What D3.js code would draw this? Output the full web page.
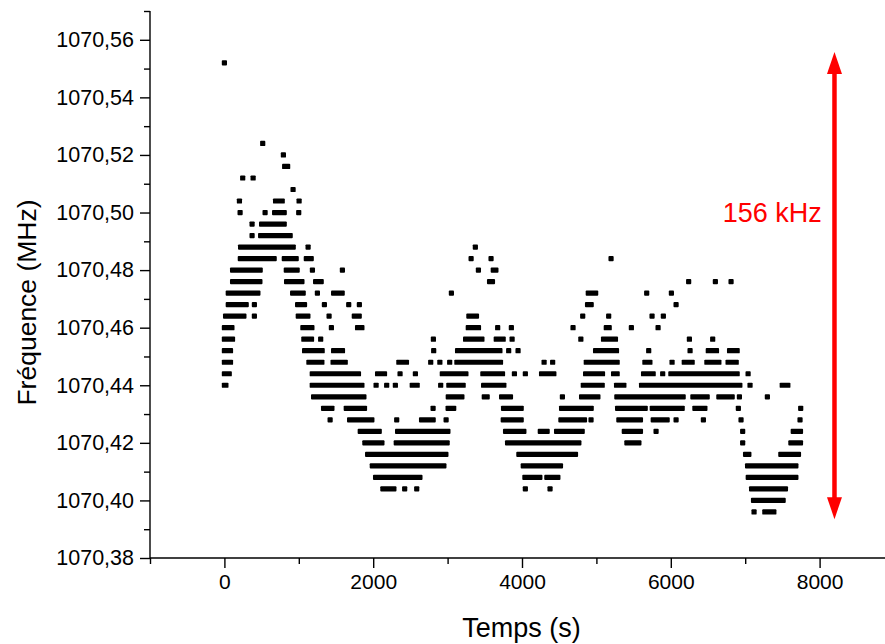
<!DOCTYPE html>
<html>
<head>
<meta charset="utf-8">
<script src="https://cdn.jsdelivr.net/npm/d3@7"></script>
<style>
  html, body { margin: 0; padding: 0; background: #fff; }
  svg { display: block; }
  text { font-family: "Liberation Sans", Arial, sans-serif; }
</style>
</head>
<body>
<svg id="chart" width="885" height="644"></svg>
<script>
// ---- Data (frequency levels, MHz, and time spans in s) ----
const frequencies = [
  1070.552, 1070.524, 1070.520, 1070.516, 1070.512, 1070.508, 1070.504, 1070.500,
  1070.496, 1070.492, 1070.488, 1070.484, 1070.480, 1070.476, 1070.472, 1070.468,
  1070.464, 1070.460, 1070.456, 1070.452, 1070.448, 1070.444, 1070.440, 1070.436,
  1070.432, 1070.428, 1070.424, 1070.420, 1070.416, 1070.412, 1070.408, 1070.404,
  1070.400, 1070.396
];
// for each frequency level: the times (single [t]) or runs of consecutive samples ([t0, t1])
const timeSpans = [
  [[0]],
  [[515]],
  [[793]],
  [[810, 850]],
  [[246], [386]],
  [[923]],
  [[202], [688, 777], [1004]],
  [[211], [547], [675, 804], [999]],
  [[372], [500, 804]],
  [[372], [487, 884]],
  [[218, 925], [1125], [3373]],
  [[214, 669], [805, 965], [1101, 1167], [3316], [3584], [5197]],
  [[110, 481], [832, 978], [1183], [1586], [3414], [3614, 3649]],
  [[110, 477], [836, 1042], [1226, 1301], [3564, 3603], [6240], [6599], [6810]],
  [[52, 450], [917, 1059], [1250], [1468, 1583], [3051], [4891, 4990], [5676], [6008]],
  [[52, 293], [403], [984, 1077], [1344], [1671], [1814], [4881, 4930], [6071]],
  [[16, 262], [403], [993, 1122], [1407], [1746, 1812], [3286, 3388], [4816], [5165], [5748], [5900]],
  [[0, 101], [1055, 1176], [1438], [1790, 1848], [3278, 3415], [3673], [3857], [4686], [5133, 5172], [5470], [5829]],
  [[0, 109], [1068, 1171], [1294], [2809], [3242, 3461], [3654, 3747], [3867], [4791], [5096, 5256], [6250], [6563]],
  [[0, 82], [1078, 1314], [1468, 1587], [2813], [3134, 3703], [3821], [3947], [4989, 5270], [5703], [6259], [6504, 6614], [6790, 6892]],
  [[0, 82], [1136, 1310], [1461, 1624], [2345, 2447], [2773], [2896], [3028], [3125, 3711], [4297], [4412], [4864, 5279], [5652, 5719], [6017], [6181, 6287], [6485, 6646], [6770, 6879]],
  [[0, 65], [1181, 1802], [2059, 2152], [2361], [2567], [2929, 3246], [3474, 3738], [3898], [4045], [4263, 4428], [4855, 5082], [5231, 5279], [5634, 5763], [5891], [6001, 6892], [7039]],
  [[0, 20], [1181, 1848], [2039], [2181], [2298], [2525, 2591], [2907], [3017, 3209], [3484, 3756], [4824, 5078], [5271, 5369], [5607, 6928], [7065], [7498, 7573]],
  [[1199, 1875], [3009, 3192], [3493, 3532], [3726, 3845], [4543], [4801, 5020], [5275, 6166], [6297, 6489], [6646, 6825], [6922], [7298]],
  [[1333, 1445], [1638, 1883], [2805], [3007, 3082], [3752, 3989], [4532, 4930], [5285, 5656], [5751, 6153], [6324, 6458], [6908], [7746]],
  [[1421], [1683, 1982], [2316], [2650, 2806], [2980], [3748, 3989], [4523, 4840], [4928], [5302, 5592], [5764, 5951], [6071], [6438], [6944], [7737]],
  [[1826, 2081], [2328, 3004], [3779, 4025], [4246, 4338], [4465, 4809], [5375, 5592], [5802], [6966], [7646, 7743]],
  [[1888, 2117], [2310, 2994], [3806, 4764], [5410, 5571], [6966], [7614, 7743]],
  [[1925, 2977], [3958, 4719], [7005, 7049], [7479, 7716]],
  [[1988, 2950], [4017, 4517], [7032, 7681]],
  [[2032, 2628], [4039, 4240], [4334, 4482], [7041, 7681]],
  [[2130, 2278], [2423], [2585], [4045], [4377], [7086, 7541]],
  [[7112, 7510]],
  [[7119], [7264, 7385]]
];

const xMajorTicks = [0, 2000, 4000, 6000, 8000];
const xMinorTicks = [-1000, 1000, 3000, 5000, 7000];
const yMajorTicks = [1070.38, 1070.40, 1070.42, 1070.44, 1070.46, 1070.48, 1070.50, 1070.52, 1070.54, 1070.56];
const yMinorTicks = [1070.39, 1070.41, 1070.43, 1070.45, 1070.47, 1070.49, 1070.51, 1070.53, 1070.55, 1070.57];

const xTitle = "Temps (s)";
const yTitle = "Fréquence (MHz)";
const spanLabel = "156 kHz";
const spanTime = 8200;          // time position of the span arrow
const spanFrom = 1070.3935;      // arrow tips
const spanTo = 1070.5558;
const labelTime = 8030;
const labelFreq = 1070.500;

// ---- Chart ----
const svg = d3.select("#chart");
const x = d3.scaleLinear().domain([-1000, 9000]).range([150, 894]);
const y = d3.scaleLinear().domain([1070.38, 1070.57]).range([558, 11]);
const fmt = v => d3.format(".2f")(v).replace(".", ",");

// flatten runs
const marks = [];
frequencies.forEach((f, i) => {
  timeSpans[i].forEach(s => marks.push({ f, t0: s[0], t1: s.length > 1 ? s[1] : s[0] }));
});

const half = 2.6;
svg.append("g")
  .selectAll("rect")
  .data(marks)
  .join("rect")
  .attr("x", d => x(d.t0) - half)
  .attr("y", d => y(d.f) - half)
  .attr("width", d => x(d.t1) - x(d.t0) + 2 * half)
  .attr("height", 2 * half)
  .attr("rx", 0.9)
  .attr("fill", "#000");

// axes
const axisColor = "#000";
const gX = svg.append("g").attr("transform", `translate(0,${y.range()[0]})`);
gX.call(d3.axisBottom(x).tickValues(xMajorTicks).tickSize(10).tickPadding(6).tickFormat(d3.format("d")));
gX.append("g").call(d3.axisBottom(x).tickValues(xMinorTicks).tickSize(6).tickFormat(""));
gX.selectAll(".domain").remove();
gX.append("line").attr("x1", x.range()[0]).attr("x2", 885).attr("stroke", axisColor).attr("stroke-width", 1.4);

const gY = svg.append("g").attr("transform", `translate(${x.range()[0]},0)`);
gY.call(d3.axisLeft(y).tickValues(yMajorTicks).tickSize(10).tickPadding(6).tickFormat(fmt));
gY.append("g").call(d3.axisLeft(y).tickValues(yMinorTicks).tickSize(6).tickFormat(""));
gY.selectAll(".domain").remove();
gY.append("line").attr("y1", y.range()[1]).attr("y2", y.range()[0]).attr("stroke", axisColor).attr("stroke-width", 1.4);

svg.selectAll(".tick line").attr("stroke", axisColor).attr("stroke-width", 1.4);
gX.selectAll(".tick text").attr("font-size", 21).attr("fill", "#000").attr("font-family", "Liberation Sans, Arial, sans-serif");
gY.selectAll(".tick text").attr("font-size", 21.5).attr("fill", "#000").attr("font-family", "Liberation Sans, Arial, sans-serif");

// titles
svg.append("text")
  .attr("x", (x(-1000) + 885) / 2 + 4)
  .attr("y", 637)
  .attr("text-anchor", "middle")
  .attr("font-size", 27)
  .text(xTitle);
svg.append("text")
  .attr("transform", `translate(36,${(y.range()[0] + y.range()[1]) / 2 + 18}) rotate(-90)`)
  .attr("text-anchor", "middle")
  .attr("font-size", 26.5)
  .text(yTitle);

// span arrow
const red = "#ff0000";
const ax = x(spanTime);
const yTop = y(spanTo), yBot = y(spanFrom);
const headL = 22, headW = 7.5;
svg.append("line")
  .attr("x1", ax).attr("x2", ax)
  .attr("y1", yTop + headL - 2).attr("y2", yBot - headL + 2)
  .attr("stroke", red).attr("stroke-width", 4.5);
svg.append("path")
  .attr("d", `M${ax},${yTop} L${ax - headW},${yTop + headL} L${ax + headW},${yTop + headL} Z`)
  .attr("fill", red);
svg.append("path")
  .attr("d", `M${ax},${yBot} L${ax - headW},${yBot - headL} L${ax + headW},${yBot - headL} Z`)
  .attr("fill", red);
svg.append("text")
  .attr("x", x(labelTime))
  .attr("y", y(labelFreq))
  .attr("dy", "0.35em")
  .attr("text-anchor", "end")
  .attr("font-size", 27)
  .attr("fill", red)
  .text(spanLabel);
</script>
</body>
</html>
